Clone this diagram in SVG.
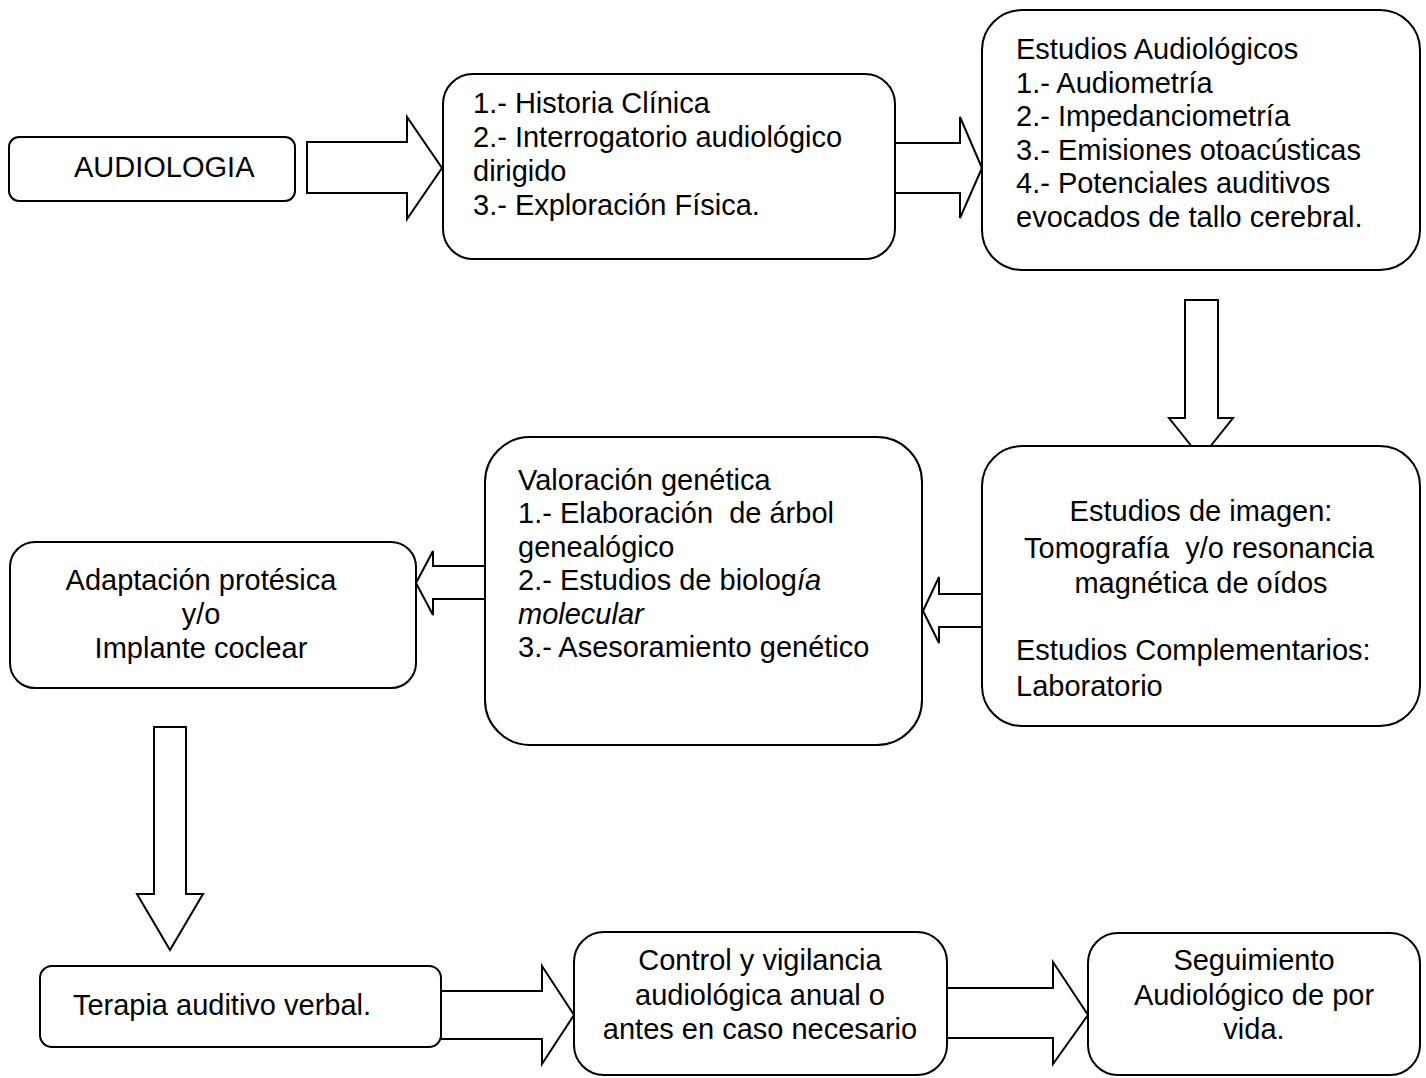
<svg xmlns="http://www.w3.org/2000/svg" width="1426" height="1078" viewBox="0 0 1426 1078">
<style>
.box{fill:#fff;stroke:#000;stroke-width:2}
.arr{fill:#fff;stroke:#000;stroke-width:2;stroke-linejoin:miter}
text{font-family:"Liberation Sans",Arial,sans-serif;font-size:29px;fill:#000}
.c{text-anchor:middle}
</style>
<rect width="1426" height="1078" fill="#fff"/>
<g id="connectors">
<polygon class="arr" points="307,142 407,142 407,117 442,168 407,219 407,193 307,193"/>
<polygon class="arr" points="895,143 960,143 960,117 982,168 960,218 960,193 895,193"/>
<polygon class="arr" points="1185,300 1218,300 1218,418 1233,418 1201,458 1169,418 1185,418"/>
<polygon class="arr" points="982,594 939,594 939,577 923,611 939,643 939,627 982,627"/>
<polygon class="arr" points="485,566 433,566 433,551 416,583 433,615 433,599 485,599"/>
<polygon class="arr" points="154,727 186,727 186,894 203,894 170,950 137,894 154,894"/>
<polygon class="arr" points="441,991 542,991 542,966 574,1015 542,1064 542,1039 441,1039"/>
<polygon class="arr" points="947,988 1053,988 1053,962 1088,1015 1053,1064 1053,1038 947,1038"/>
</g>
<g id="n1">
<rect class="box" x="9" y="137" width="286" height="64" rx="10"/>
<text x="74" y="177">AUDIOLOGIA</text>
</g>
<g id="n2">
<rect class="box" x="443" y="74" width="452" height="185" rx="30"/>
<text x="473" y="113">1.- Historia Clínica</text>
<text x="473" y="147">2.- Interrogatorio audiológico</text>
<text x="473" y="181">dirigido</text>
<text x="473" y="215">3.- Exploración Física.</text>
</g>
<g id="n3">
<rect class="box" x="982" y="10" width="438" height="260" rx="40"/>
<text x="1016" y="59">Estudios Audiológicos</text>
<text x="1016" y="93">1.- Audiometría</text>
<text x="1016" y="126">2.- Impedanciometría</text>
<text x="1016" y="160">3.- Emisiones otoacústicas</text>
<text x="1016" y="193">4.- Potenciales auditivos</text>
<text x="1016" y="227">evocados de tallo cerebral.</text>
</g>
<g id="n4">
<rect class="box" x="982" y="446" width="438" height="280" rx="40"/>
<text class="c" x="1201" y="521">Estudios de imagen:</text>
<text class="c" x="1199" y="558" xml:space="preserve">Tomografía  y/o resonancia</text>
<text class="c" x="1201" y="593">magnética de oídos</text>
<text x="1016" y="660">Estudios Complementarios:</text>
<text x="1016" y="696">Laboratorio</text>
</g>
<g id="n5">
<rect class="box" x="485" y="437" width="437" height="308" rx="45"/>
<text x="518" y="490">Valoración genética</text>
<text x="518" y="523" xml:space="preserve">1.- Elaboración  de árbol</text>
<text x="518" y="557">genealógico</text>
<text x="518" y="590">2.- Estudios de biolog<tspan font-style="italic">ía</tspan></text>
<text x="518" y="624" font-style="italic">molecular</text>
<text x="518" y="657">3.- Asesoramiento genético</text>
</g>
<g id="n6">
<rect class="box" x="10" y="542" width="406" height="146" rx="25"/>
<text class="c" x="201" y="590">Adaptación protésica</text>
<text class="c" x="201" y="624">y/o</text>
<text class="c" x="201" y="658">Implante coclear</text>
</g>
<g id="n7">
<rect class="box" x="40" y="966" width="401" height="81" rx="12"/>
<text class="c" x="222" y="1015">Terapia auditivo verbal.</text>
</g>
<g id="n8">
<rect class="box" x="574" y="932" width="373" height="143" rx="30"/>
<text class="c" x="760" y="970">Control y vigilancia</text>
<text class="c" x="760" y="1005">audiológica anual o</text>
<text class="c" x="760" y="1039">antes en caso necesario</text>
</g>
<g id="n9">
<rect class="box" x="1088" y="933" width="332" height="142" rx="30"/>
<text class="c" x="1254" y="970">Seguimiento</text>
<text class="c" x="1254" y="1005">Audiológico de por</text>
<text class="c" x="1254" y="1039">vida.</text>
</g>
</svg>
